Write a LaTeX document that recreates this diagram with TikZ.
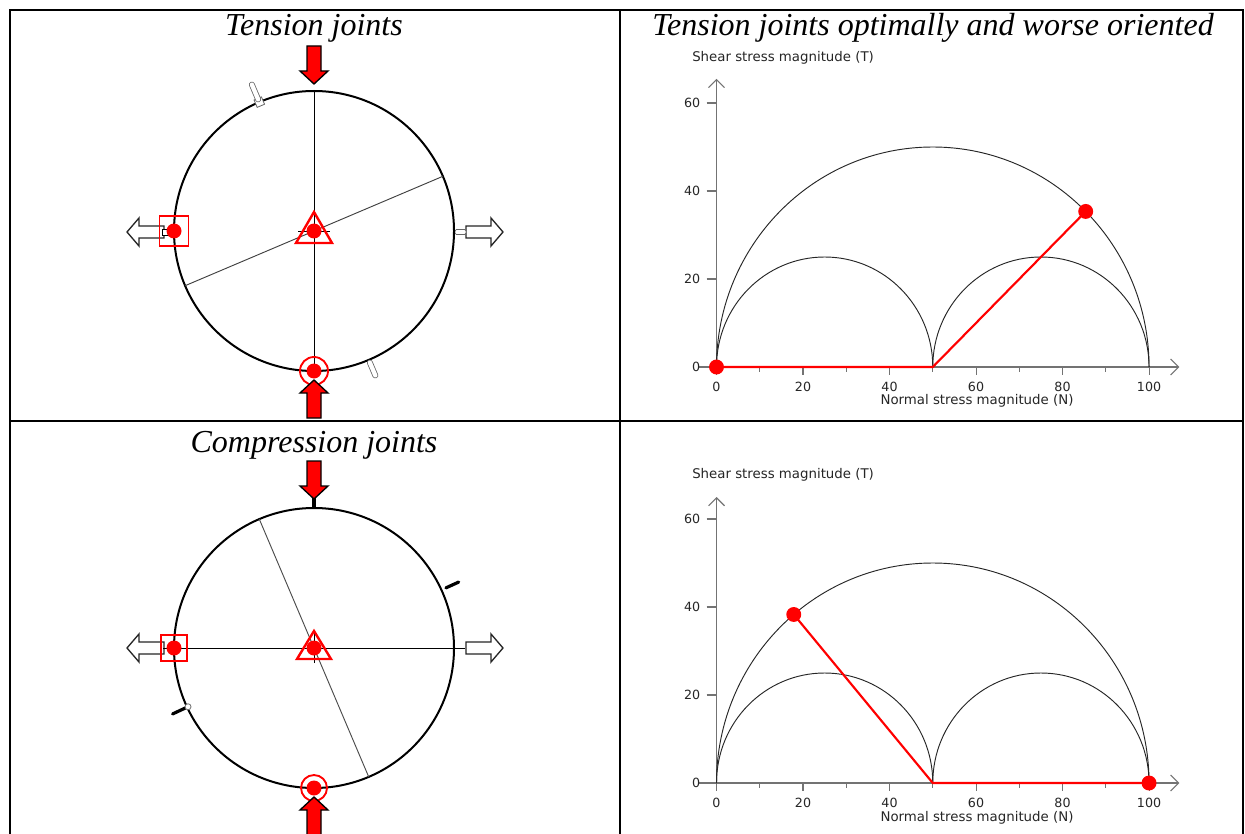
\documentclass[tikz,border=0pt]{standalone}
\usepackage{fontspec}
\setmainfont{Liberation Serif}
\newfontfamily\plotfont{DejaVu Sans}
\usetikzlibrary{arrows.meta}
\tikzset{
  title/.style={font=\itshape\fontsize{24}{28}\selectfont, inner sep=0pt, anchor=base},
  frame/.style={line width=1.2pt},
  ring/.style={line width=1.5pt},
  trace/.style={line width=0.7pt},
  redmark/.style={red, line width=1.4pt},
  reddot/.style={fill=red},
  pill/.style={black!60, double=white, double distance=3.2pt, line width=0.6pt, line cap=round},
  basesq/.style={draw=black!60, fill=white, line width=0.6pt, minimum size=6pt, inner sep=0pt},
  pics/redarrow/.style={code={\draw[black,fill=red,line width=1pt,line join=miter]
     (0,0)--(-14,-13)--(-7,-13)--(-7,-38)--(7,-38)--(7,-13)--(14,-13)--cycle;}},
  pics/whitearrow/.style={code={\draw[black!85,fill=white,line width=1pt,line join=miter]
     (0,0)--(-14,-12)--(-6,-12)--(-6,-37)--(6,-37)--(6,-12)--(14,-12)--cycle;}},
  axis/.style={black!55, line width=0.8pt},
  axarrow/.style={-{Straight Barb[length=6pt,width=12pt,line width=0.8pt]}},
  mohr/.style={black!85, line width=0.7pt},
  redline/.style={red, line width=1.6pt},
  ticklab/.style={font=\plotfont\fontsize{9.5}{11}\selectfont, text=black!85, inner sep=0pt},
  axlab/.style={font=\plotfont\fontsize{10}{12}\selectfont, text=black!85, inner sep=0pt},
}
\begin{document}
\begin{tikzpicture}[x=0.75pt,y=-0.75pt]
\useasboundingbox (0,0) rectangle (1245,834);
\fill[white] (0,0) rectangle (1245,834);

% table
\draw[frame] (10,834) -- (10,10) -- (1243,10) -- (1243,834);
\draw[frame] (620,10) -- (620,834);
\draw[frame] (10,421) -- (1243,421);

% titles
\node[title] (t1) at (314,36) {Tension joints};
\node[title] (t2) at (933,36) {Tension joints optimally and worse oriented};
\node[title] (t3) at (314,452) {Compression joints};

% ---------- tension circle ----------
\pic[rotate=-90] at (127,232) {whitearrow};
\draw[black, fill=white, line width=0.6pt] (162,229) rectangle (168,235);
\pic[rotate=90] at (503,232) {whitearrow};
\draw[black!60, fill=white, line width=0.6pt, rounded corners=1pt] (455,229.5) rectangle (466,234.5);
\begin{scope}[shift={(314,231)}, yscale=-1]
  \draw[ring] (0,0) circle (140);
  \draw[trace] (0,-140) -- (0,140);
  \draw[trace, black!75] (203:140) -- (23:140);
  \draw[trace] (-16,0) -- (16,0);
  \node[basesq, rotate=23] (sq1) at (113:140) {};
  \draw[pill] (113:143) -- (113:159);
  \draw[pill] (293:143) -- (293:157);
  % red markers
  \draw[redmark, line width=1.8pt, line join=miter] (0,19) -- (-18,-12) -- (18,-12) -- cycle;
  \fill[reddot] (0,0) circle (7.5);
  \draw[redmark] (-154.5,-15) rectangle (-125.5,15);
  \fill[reddot] (-140,0) circle (7.5);
  \draw[redmark] (0,-140) circle (14);
  \fill[reddot] (0,-140) circle (7.5);
\end{scope}
\pic at (314,84) {redarrow};
\pic[rotate=180] at (314,380) {redarrow};

% ---------- compression circle ----------
\pic[rotate=-90] at (127,648) {whitearrow};
\pic[rotate=90] at (503,648) {whitearrow};
\draw[trace] (163,648) -- (465,648);
\begin{scope}[shift={(314,648)}, yscale=-1]
  \draw[ring] (0,0) circle (140);
  \draw[trace, black!70] (113:140) -- (293:140);
  \draw[trace] (0,-15) -- (0,15);
  \draw[line width=2.4pt, line cap=round] (24.5:145) -- (24.5:159);
  \draw[line width=2.4pt, line cap=round] (205:141) -- (205:156);
  \draw[black!55, fill=white, line width=0.6pt] (205:139) circle (3);
  \draw[redmark, line width=1.8pt, line join=miter] (0,17) -- (-17,-11) -- (17,-11) -- cycle;
  \fill[reddot] (0,0) circle (7.5);
  \draw[redmark] (-153,-13) rectangle (-127,13);
  \fill[reddot] (-140,0) circle (7.5);
  \draw[redmark] (0,-140) circle (13);
  \fill[reddot] (0,-140) circle (7.5);
\end{scope}
\draw[line width=2.4pt] (314,497) -- (314,508);
\pic at (314,499) {redarrow};
\pic[rotate=180] at (314,797) {redarrow};

% ---------- Mohr plot (top) ----------
\node[axlab, anchor=west] (ylab1) at (692,58) {Shear stress magnitude (T)};
\node[axlab] (xlab1) at (977,401) {Normal stress magnitude (N)};
\begin{scope}[shift={(716.5,367)}, x=3.244pt, y=3.3pt]
  \draw[axis, axarrow] (-4.3,0) -- (107,0);
  \draw[axis, axarrow] (0,-1.8) -- (0,65.5);
  \foreach \v in {20,40,...,100} \draw[axis] (\v,0) -- (\v,-1.9);
  \foreach \v in {10,30,...,90} \draw[axis] (\v,0) -- (\v,-1.2);
  \foreach \v in {20,40,60} \draw[axis] (-2.3,\v) -- (0,\v);
  \foreach \v in {0,20,40,60,80,100} \node[ticklab] at (\v,-4.55) {\v};
  \foreach \v in {0,20,40,60} \node[ticklab, anchor=east] at (-3.7,\v) {\v};
  \draw[mohr] (0,0) arc[start angle=180, end angle=0, radius=50];
  \draw[mohr] (0,0) arc[start angle=180, end angle=0, radius=25];
  \draw[mohr] (50,0) arc[start angle=180, end angle=0, radius=25];
  \draw[redline] (0,0) -- (50,0) -- ({50+50*cos(45)},{50*sin(45)});
  \fill[red] (0,0) circle [radius=5.6pt];
  \fill[red] ({50+50*cos(45)},{50*sin(45)}) circle [radius=5.6pt];
\end{scope}

% ---------- Mohr plot (bottom) ----------
\node[axlab, anchor=west] (ylab2) at (692,475) {Shear stress magnitude (T)};
\node[axlab] (xlab2) at (977,818) {Normal stress magnitude (N)};
\begin{scope}[shift={(716.5,783)}, x=3.244pt, y=3.3pt]
  \draw[axis, axarrow] (-4.3,0) -- (107,0);
  \draw[axis, axarrow] (0,-1.8) -- (0,65);
  \foreach \v in {20,40,...,100} \draw[axis] (\v,0) -- (\v,-1.9);
  \foreach \v in {10,30,...,90} \draw[axis] (\v,0) -- (\v,-1.2);
  \foreach \v in {20,40,60} \draw[axis] (-2.3,\v) -- (0,\v);
  \foreach \v in {0,20,40,60,80,100} \node[ticklab] at (\v,-4.55) {\v};
  \foreach \v in {0,20,40,60} \node[ticklab, anchor=east] at (-3.7,\v) {\v};
  \draw[mohr] (0,0) arc[start angle=180, end angle=0, radius=50];
  \draw[mohr] (0,0) arc[start angle=180, end angle=0, radius=25];
  \draw[mohr] (50,0) arc[start angle=180, end angle=0, radius=25];
  \draw[redline] (100,0) -- (50,0) -- ({50+50*cos(130)},{50*sin(130)});
  \fill[red] (100,0) circle [radius=5.6pt];
  \fill[red] ({50+50*cos(130)},{50*sin(130)}) circle [radius=5.6pt];
\end{scope}
\end{tikzpicture}
\end{document}
